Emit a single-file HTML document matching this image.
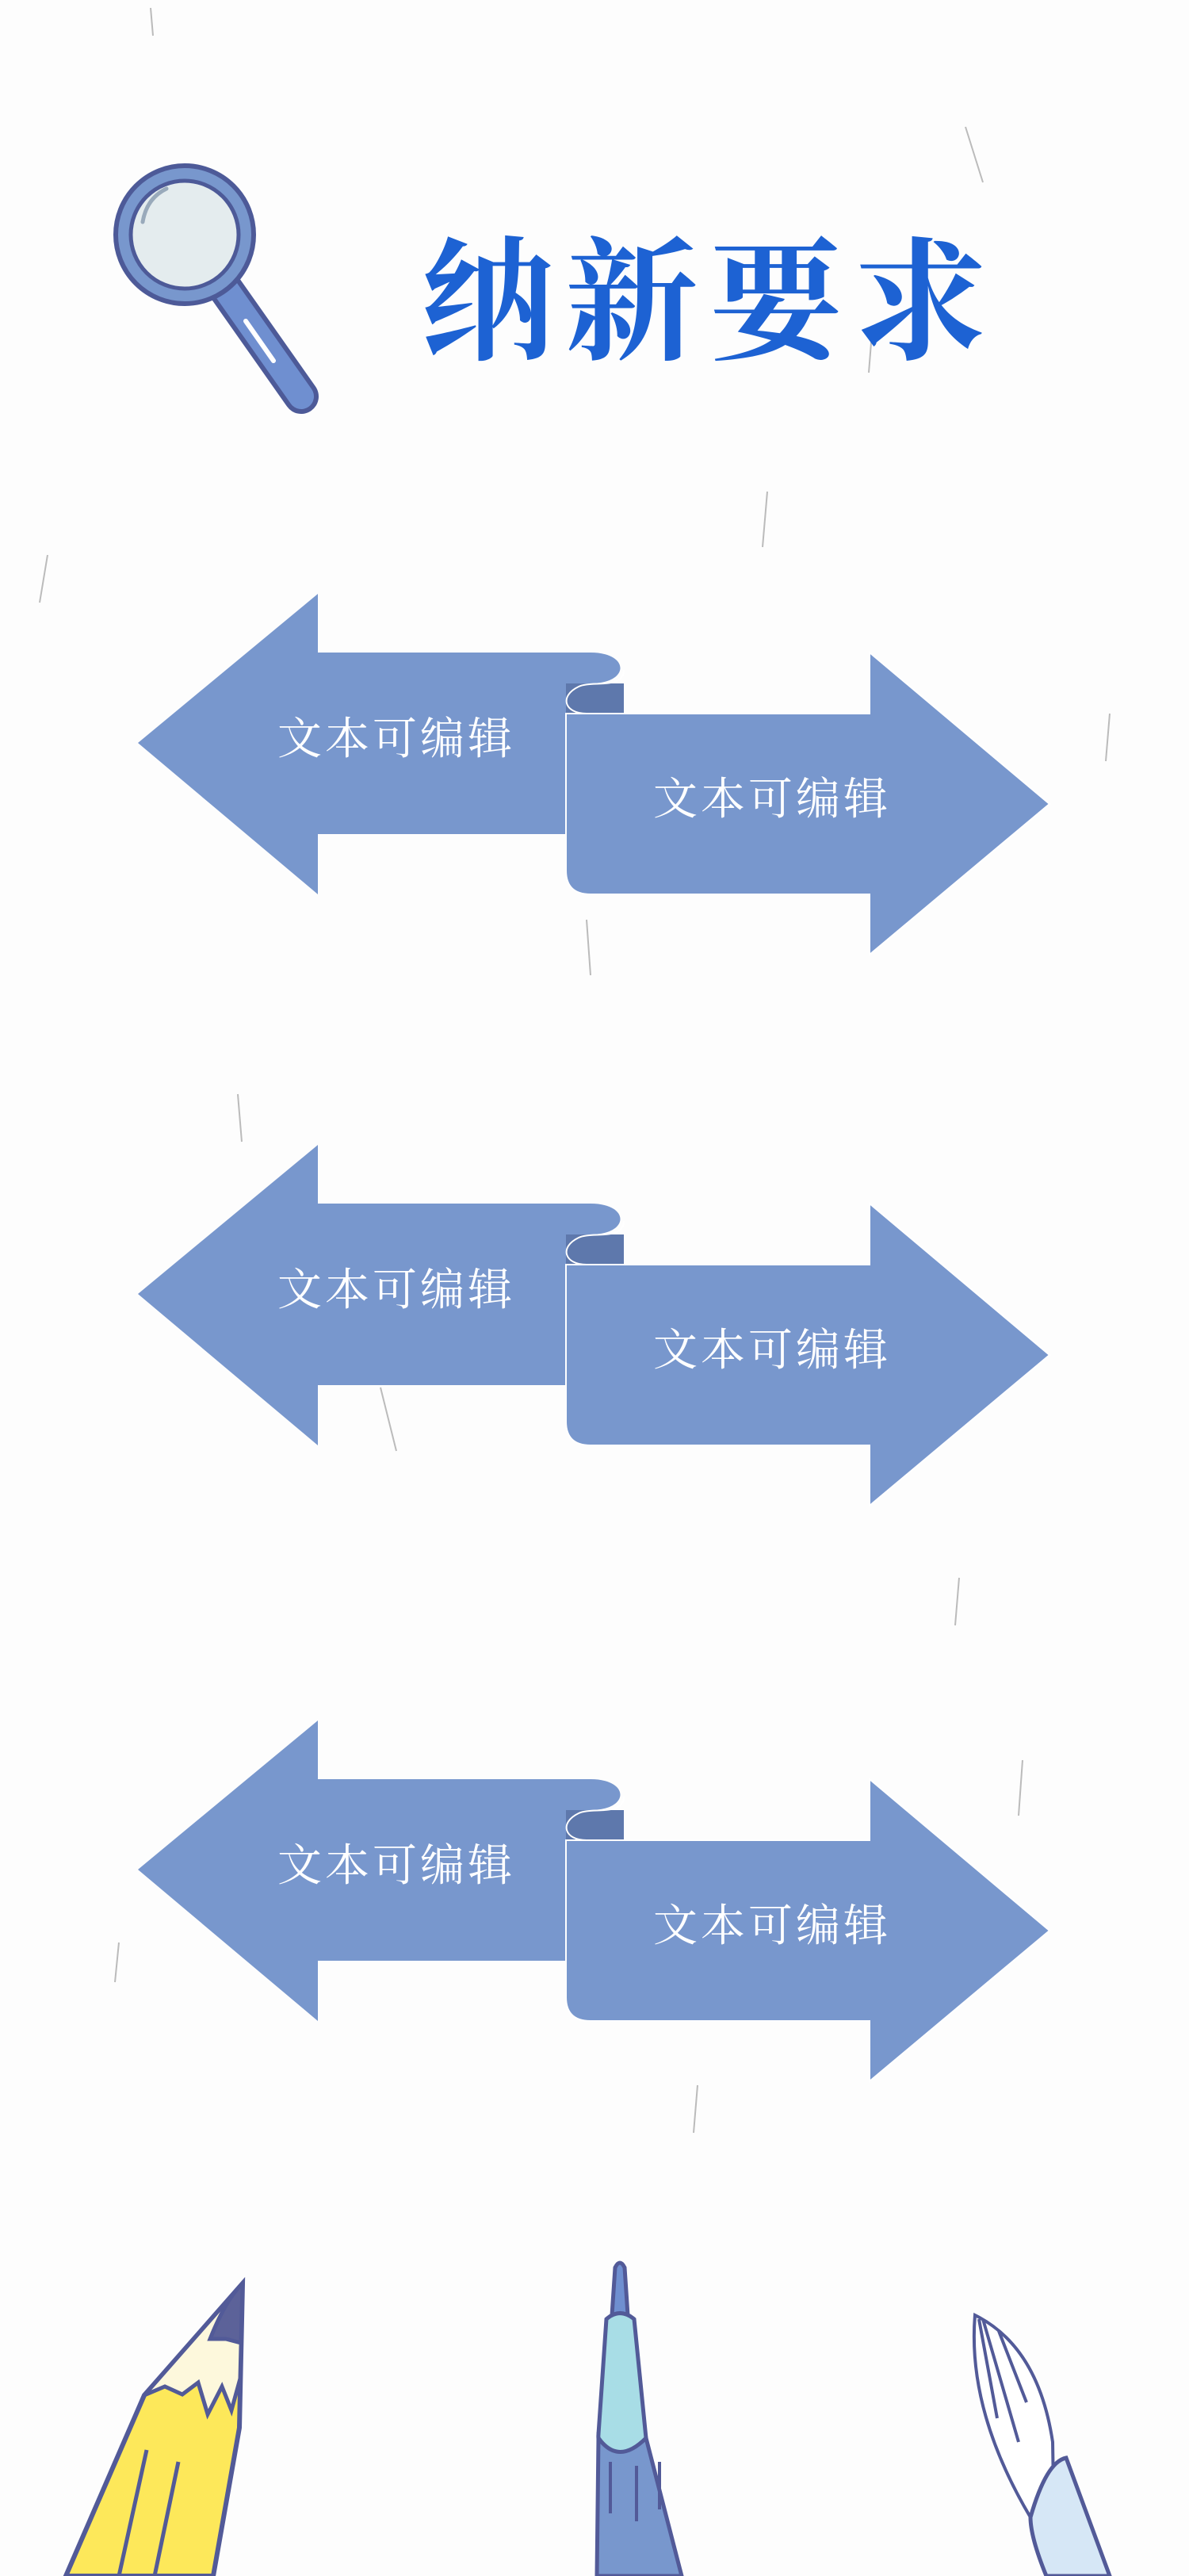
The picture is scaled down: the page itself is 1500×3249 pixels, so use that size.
<!DOCTYPE html>
<html><head><meta charset="utf-8"><style>
html,body{margin:0;padding:0;background:#fdfdfd;}
svg{display:block}
</style></head><body>
<svg width="1500" height="3249" viewBox="0 0 1500 3249" xmlns="http://www.w3.org/2000/svg">
<defs>
<g id="pair">
  <path d="M174,937 L401,749 L401,823 L745,823 C795,823 795,862 745,862 L714,870 L714,1052 L401,1052 L401,1128 Z" fill="#7897cd"/>
  <path d="M714,862 H787 V900 H714 Z" fill="#5e78ac"/>
  <path d="M787,845 C787,870 745,858 730,866 C705,878 712,900 740,900" fill="none" stroke="#fff" stroke-width="2"/>
  <path d="M714,900 H1097 V823 L1324,1014 L1097,1204 V1128 H745 Q714,1128 714,1098 V900 Z" fill="#7897cd" stroke="#fff" stroke-width="2"/>
  <text x="500" y="951" font-size="56" fill="#fff" text-anchor="middle" font-family="'Noto Serif CJK SC','Liberation Serif',serif" letter-spacing="4">文本可编辑</text>
  <text x="974" y="1027" font-size="56" fill="#fff" text-anchor="middle" font-family="'Noto Serif CJK SC','Liberation Serif',serif" letter-spacing="4">文本可编辑</text>
</g>
</defs>
<g stroke="#bbb" stroke-width="2">
<line x1="190" y1="10" x2="193" y2="45"/><line x1="1218" y1="160" x2="1240" y2="230"/>
<line x1="968" y1="620" x2="962" y2="690"/><line x1="1210" y1="1990" x2="1205" y2="2050"/>
<line x1="480" y1="1750" x2="500" y2="1830"/><line x1="740" y1="1160" x2="745" y2="1230"/>
<line x1="1290" y1="2220" x2="1285" y2="2290"/><line x1="60" y1="700" x2="50" y2="760"/>
<line x1="1400" y1="900" x2="1395" y2="960"/><line x1="300" y1="1380" x2="305" y2="1440"/>
<line x1="880" y1="2630" x2="875" y2="2690"/><line x1="150" y1="2450" x2="145" y2="2500"/>
<line x1="1100" y1="420" x2="1096" y2="470"/><line x1="620" y1="1570" x2="615" y2="1620"/>
</g>
<line x1="285" y1="365" x2="380" y2="500" stroke="#4d5a98" stroke-width="44" stroke-linecap="round"/>
<line x1="285" y1="365" x2="380" y2="500" stroke="#6f8fd0" stroke-width="32" stroke-linecap="round"/>
<line x1="310" y1="405" x2="345" y2="455" stroke="#fff" stroke-width="6" stroke-linecap="round"/>
<circle cx="233" cy="296" r="87" fill="#7897cd" stroke="#4d5a98" stroke-width="6"/>
<circle cx="233" cy="296" r="68" fill="#e4ecee" stroke="#4d5a98" stroke-width="5"/>
<path d="M180,280 Q185,250 210,238" fill="none" stroke="#9ab" stroke-width="5" stroke-linecap="round"/>
<text x="895" y="440" font-size="168" font-weight="bold" fill="#1d62d3" text-anchor="middle" font-family="'Noto Serif CJK SC','Liberation Serif',serif" letter-spacing="14">纳新要求</text>
<use href="#pair"/>
<use href="#pair" y="695"/>
<use href="#pair" y="1421"/>
<!-- pencil -->
<path d="M306,2880 L302,3062 L269,3249 L83,3249 L182,3021 Z" fill="#fde85a" stroke="#525a98" stroke-width="6"/>
<path d="M306,2880 L303,3000 L292,3040 L280,3010 L262,3045 L250,3005 L230,3020 L208,3010 L182,3021 Z" fill="#fdf8dc" stroke="#525a98" stroke-width="5"/>
<path d="M306,2880 L304,2955 L285,2950 L265,2950 Q285,2900 306,2880 Z" fill="#5c6299" stroke="#525a98" stroke-width="5"/>
<line x1="185" y1="3090" x2="150" y2="3249" stroke="#525a98" stroke-width="5"/>
<line x1="225" y1="3105" x2="195" y2="3249" stroke="#525a98" stroke-width="5"/>
<!-- pen -->
<path d="M776,2860 Q782,2848 788,2860 L792,2920 L772,2920 Z" fill="#6f8fd0" stroke="#525a98" stroke-width="5"/>
<path d="M765,2925 Q782,2910 800,2925 L815,3075 Q810,3105 780,3100 Q753,3095 755,3070 Z" fill="#a8dde6" stroke="#525a98" stroke-width="5"/>
<path d="M755,3075 Q780,3110 815,3075 L860,3249 L753,3249 Z" fill="#7897cd" stroke="#525a98" stroke-width="5"/>
<line x1="770" y1="3105" x2="770" y2="3170" stroke="#525a98" stroke-width="4"/>
<line x1="803" y1="3110" x2="803" y2="3180" stroke="#525a98" stroke-width="4"/>
<line x1="832" y1="3105" x2="832" y2="3165" stroke="#525a98" stroke-width="4"/>
<!-- brush -->
<path d="M1230,2920 Q1310,2960 1328,3080 L1330,3200 L1300,3175 Q1220,3040 1230,2920 Z" fill="#fff" stroke="#525a98" stroke-width="4"/>
<path d="M1235,2925 L1258,3050 M1240,2925 L1285,3080 M1260,2940 L1295,3030" stroke="#525a98" stroke-width="4" fill="none"/>
<path d="M1300,3175 Q1320,3105 1345,3100 L1400,3249 L1320,3249 Q1300,3200 1300,3175 Z" fill="#d6e7f6" stroke="#525a98" stroke-width="5"/>
</svg>
</body></html>
